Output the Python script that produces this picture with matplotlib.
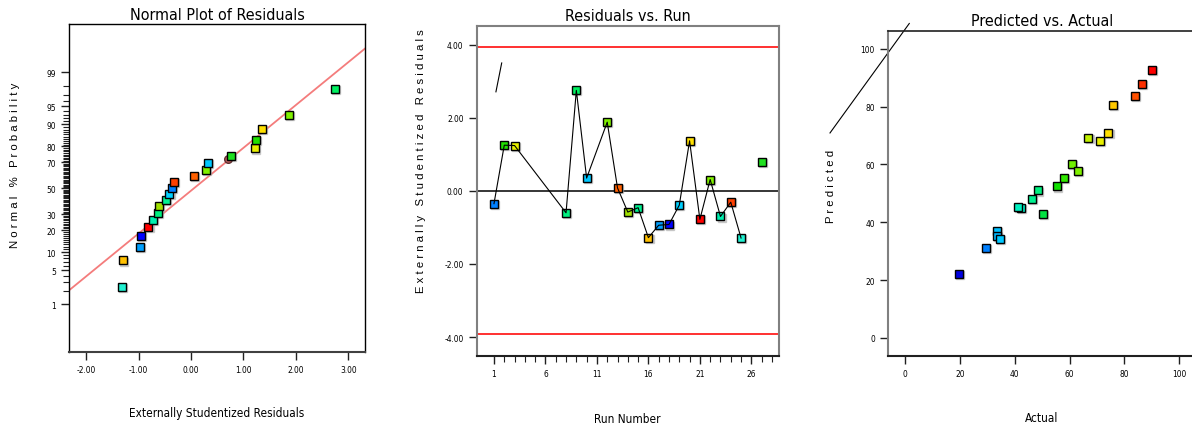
import numpy as np
import matplotlib
matplotlib.use("Agg")
import matplotlib.pyplot as plt
from matplotlib.ticker import FixedLocator, FuncFormatter
from statistics import NormalDist

plt.rcParams['font.family'] = ['DejaVu Sans']
plt.rcParams['font.stretch'] = 'condensed'

# --- Normal plot of residuals (sorted residuals vs normal % probability)
normal_resid = [-1.31, -1.30, -0.97, -0.95, -0.81, -0.72, -0.63, -0.61, -0.48, -0.41, -0.37,
                -0.33, 0.06, 0.29, 0.32, 0.76, 1.22, 1.23, 1.36, 1.86, 2.74]
normal_prob = [2.4, 7.4, 12.1, 17.1, 21.8, 26.4, 31.2, 36.3, 40.9, 45.6, 50.4,
               55.2, 59.9, 64.4, 69.5, 74.2, 78.8, 83.6, 88.3, 92.9, 97.7]
circle_resid = [0.71]
circle_prob = [71.9]
fit_resid = [-2.32, 3.32]
fit_prob = [2.05, 99.75]
prob_major = [1, 5, 10, 20, 30, 50, 70, 80, 90, 95, 99]

# --- Residuals vs run
runs = [1, 2, 3, 8, 9, 10, 12, 13, 14, 15, 16, 17, 18, 19, 20, 21, 22, 23, 24, 25, 27]
run_resid = [-0.35, 1.25, 1.24, -0.60, 2.75, 0.35, 1.88, 0.08, -0.58, -0.46, -1.28,
             -0.94, -0.92, -0.39, 1.37, -0.78, 0.31, -0.70, -0.31, -1.29, 0.78]
n_connected = 20
limit = 3.93
stray_run = [1.19, 1.75]
stray_resid = [2.71, 3.50]

# --- Predicted vs actual
actual = [90.2, 86.6, 84.0, 76.0, 74.2, 66.9, 71.1, 61.0, 63.2, 58.1, 55.5,
          48.6, 46.4, 42.4, 41.3, 50.4, 33.4, 33.6, 34.6, 29.6, 19.7]
predicted = [92.7, 87.8, 83.8, 80.5, 71.0, 69.1, 68.0, 60.2, 57.6, 55.4, 52.4,
             51.0, 48.0, 44.9, 45.3, 43.0, 37.0, 35.1, 34.1, 31.0, 22.1]
diag_actual = [-27.5, 1.46]
diag_pred = [70.9, 108.8]

# point colours (by response level)
normal_colors = ['#20f0d0', '#ffc000', '#00a0ff', '#0000ff', '#ff0000', '#00f0b0', '#00f080',
                 '#a0e000', '#00f090', '#00d0ff', '#0080ff', '#ff4000', '#ff6000', '#80f000',
                 '#00c8ff', '#20e020', '#e8f000', '#20e000', '#ffe000', '#80f000', '#00f060']
run_colors = ['#0080ff', '#20e000', '#e8f000', '#00f080', '#00f060', '#00c8ff', '#80f000',
              '#ff6000', '#a0e000', '#00f090', '#ffc000', '#00a0ff', '#0000ff', '#00d0ff',
              '#ffe000', '#ff0000', '#80f000', '#00f0b0', '#ff4000', '#20f0d0', '#20e020']
pva_colors = ['#ff0000', '#ff3000', '#ff5000', '#ffc800', '#ffe000', '#c0f000', '#e8f000',
              '#70f000', '#80f000', '#30e800', '#10e000', '#00f080', '#00f090', '#00f0c8',
              '#00f0c0', '#00e040', '#00c0ff', '#00b8ff', '#00c8ff', '#0080ff', '#0000e0']

probit = NormalDist().inv_cdf


def z(p):
    return [probit(v / 100.0) for v in p]


def squares(ax, x, y, colors):
    shadow = ax.transData + matplotlib.transforms.ScaledTranslation(0.8 / 72, -0.8 / 72, ax.figure.dpi_scale_trans)
    for xi, yi, c in zip(x, y, colors):
        ax.plot(xi, yi, 's', ms=5.2, mfc='#b0b0b0', mec='#b0b0b0', alpha=0.6,
                transform=shadow, zorder=3)
        ax.plot(xi, yi, 's', ms=5.2, mfc=c, mec='black', mew=1.0, zorder=4)


tick_fs = 6
title_fs = 11.5
label_fs = 8.5
spaced = dict(family=['Liberation Sans', 'DejaVu Sans'], stretch='normal', fontsize=8.2)
fig = plt.figure(figsize=(11.92, 4.31), dpi=100)

# ---------------- left
ax1 = fig.add_axes([0.0581, 0.1803, 0.2483, 0.761])
ax1.plot(fit_resid, z(fit_prob), color='#f47c7c', lw=1.3, zorder=2)
squares(ax1, normal_resid, z(normal_prob), normal_colors)
ax1.plot(circle_resid, z(circle_prob), 'o', ms=5.5, mfc='#b85c5c', mec='#603030', mew=1, zorder=3.5)
ax1.set_xlim(-2.32, 3.32)
ax1.set_ylim(-3.29, 3.29)
ax1.set_xticks([-2, -1, 0, 1, 2, 3])
ax1.xaxis.set_major_formatter(FuncFormatter(lambda v, p: '%.2f' % v))
ax1.yaxis.set_major_locator(FixedLocator(z(prob_major)))
ax1.set_yticklabels([str(p) for p in prob_major])
ax1.yaxis.set_minor_locator(FixedLocator(z([p for p in range(2, 99) if p not in prob_major])))
ax1.tick_params(which='major', length=6, width=1, labelsize=tick_fs, color='#202020')
ax1.tick_params(which='minor', length=4, width=0.8, color='#202020')
for s in ax1.spines.values():
    s.set_linewidth(1.0)
ax1.spines['bottom'].set_color('#404040')
ax1.spines['bottom'].set_linewidth(1.5)
ax1.set_title('Normal Plot of Residuals', fontsize=title_fs, pad=4)
fig.text(217 / 1192, 1 - 414 / 431, 'Externally Studentized Residuals', ha='center', va='center', fontsize=label_fs)
fig.text(15 / 1192, 1 - 165 / 431, 'N o r m a l   %   P r o b a b i l i t y', rotation=90,
         ha='center', va='center', **spaced)

# ---------------- middle
ax2 = fig.add_axes([0.3999, 0.1724, 0.2534, 0.7657])
ax2.axhline(limit, color='#ff2020', lw=1.3, zorder=1)
ax2.axhline(-limit, color='#ff2020', lw=1.3, zorder=1)
ax2.axhline(0, color='black', lw=1.1, zorder=1)
ax2.plot(runs[:n_connected], run_resid[:n_connected], color='black', lw=0.8, zorder=5)
ax2.plot(stray_run, stray_resid, color='black', lw=0.8, zorder=2)
squares(ax2, runs, run_resid, run_colors)
ax2.set_xlim(-0.68, 28.66)
ax2.set_ylim(-4.51, 4.52)
ax2.set_xticks([1, 6, 11, 16, 21, 26])
ax2.set_xticks(range(1, 29), minor=True)
ax2.set_yticks([-4, -2, 0, 2, 4])
ax2.yaxis.set_major_formatter(FuncFormatter(lambda v, p: '%.2f' % v))
ax2.tick_params(which='major', length=6, width=1, labelsize=tick_fs, color='#202020')
ax2.tick_params(which='minor', length=4, width=0.8, color='#202020')
for s in ax2.spines.values():
    s.set_color('#808080')
    s.set_linewidth(1.5)
ax2.spines['bottom'].set_color('#202020')
ax2.set_title('Residuals vs. Run', fontsize=title_fs, pad=4)
fig.text(627 / 1192, 1 - 420 / 431, 'Run Number', ha='center', va='center', fontsize=label_fs)
fig.text(421 / 1192, 1 - 161 / 431, 'E x t e r n a l l y   S t u d e n t i z e d   R e s i d u a l s',
         rotation=90, ha='center', va='center', **spaced)

# ---------------- right
ax3 = fig.add_axes([0.745, 0.1724, 0.2586, 0.7534])
ax3.plot(diag_actual, diag_pred, color='black', lw=0.8, clip_on=False, zorder=2)
squares(ax3, actual, predicted, pva_colors)
ax3.set_xlim(-6.3, 106.3)
ax3.set_ylim(-6.2, 106.2)
ax3.set_xticks([0, 20, 40, 60, 80, 100])
ax3.set_yticks([0, 20, 40, 60, 80, 100])
ax3.tick_params(which='major', length=6, width=1, labelsize=tick_fs, color='#202020')
for s in ax3.spines.values():
    s.set_linewidth(1.5)
    s.set_color('#202020')
ax3.spines['left'].set_color('#808080')
ax3.spines['top'].set_linewidth(1.2)
ax3.set_title('Predicted vs. Actual', fontsize=title_fs, pad=4)
fig.text(1042 / 1192, 1 - 419 / 431, 'Actual', ha='center', va='center', fontsize=label_fs)
fig.text(831 / 1192, 1 - 186 / 431, 'P r e d i c t e d', rotation=90,
         ha='center', va='center', **spaced)

fig.savefig('out.png', dpi=100)
